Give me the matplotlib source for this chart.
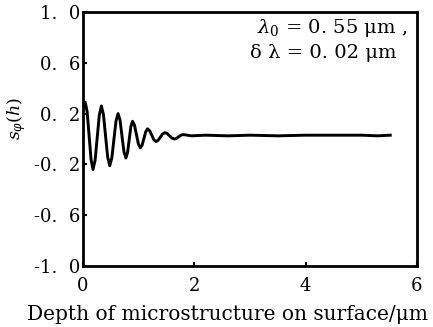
import matplotlib
matplotlib.use("Agg")
import matplotlib.pyplot as plt

# Data
depth = [0.00, 0.04, 0.075, 0.11, 0.145, 0.18, 0.2175, 0.255, 0.2925, 0.33,
         0.3675, 0.405, 0.4425, 0.48, 0.5175, 0.555, 0.5925, 0.63, 0.665, 0.70,
         0.735, 0.77, 0.80, 0.83, 0.86, 0.89, 0.925, 0.96, 0.995, 1.03,
         1.0625, 1.095, 1.1275, 1.16, 1.1975, 1.235, 1.2725, 1.31, 1.35, 1.39,
         1.43, 1.47, 1.5125, 1.555, 1.5975, 1.64, 1.68, 1.72, 1.76, 1.80,
         1.95, 2.2, 2.6, 3.0, 3.5, 4.0, 4.5, 5.0, 5.3, 5.52]
s_phi = [0.26, 0.29, 0.213, 0.025, -0.163, -0.24, -0.167, 0.01, 0.187, 0.26,
         0.191, 0.025, -0.141, -0.21, -0.15, -0.005, 0.14, 0.20, 0.149, 0.025,
         -0.099, -0.15, -0.108, -0.005, 0.098, 0.14, 0.109, 0.035, -0.039, -0.07,
         -0.048, 0.005, 0.058, 0.08, 0.065, 0.03, -0.005, -0.02, -0.01, 0.015,
         0.04, 0.05, 0.043, 0.025, 0.007, 0.0, 0.005, 0.018, 0.03, 0.035,
         0.025, 0.03, 0.025, 0.03, 0.025, 0.03, 0.03, 0.03, 0.025, 0.03]

xticks = [0, 2, 4, 6]
xticklabels = ["0", "2", "4", "6"]
yticks = [1.0, 0.6, 0.2, -0.2, -0.6, -1.0]
yticklabels = ["1.  0", "0.  6", "0.  2", "-0.  2", "-0.  6", "-1.  0"]

plt.rcParams['font.family'] = ['DejaVu Serif']
plt.rcParams['mathtext.fontset'] = 'dejavuserif'

W, H = 433, 327
fig = plt.figure(figsize=(W / 100, H / 100), dpi=100)
ax = fig.add_axes([83 / W, 1 - 266 / H, (417 - 83) / W, (266 - 12) / H])

ax.plot(depth, s_phi, color='black', lw=2.1)

ax.set_xlim(0, 6)
ax.set_ylim(-1, 1)
ax.set_xticks(xticks)
ax.set_xticklabels(xticklabels)
ax.set_yticks(yticks)
ax.set_yticklabels(yticklabels)
ax.tick_params(axis='both', direction='in', length=3, width=1.5, labelsize=13)
ax.tick_params(axis='y', pad=2)
ax.tick_params(axis='x', pad=8)
for sp in ax.spines.values():
    sp.set_linewidth(2.0)

fig.text(407 / W, 1 - 28 / H, r"$\lambda_0$ = 0. 55 μm ,", ha='right', va='center', fontsize=14)
fig.text(397 / W, 1 - 53 / H, r"δ λ = 0. 02 μm", ha='right', va='center', fontsize=14)

fig.text(17 / W, 1 - 118 / H, r"$s_{\varphi}(h)$", rotation=90, ha='center', va='center', fontsize=12.5)
fig.text(227 / W, 1 - 315 / H, "Depth of microstructure on surface/μm", ha='center', va='center', fontsize=14.5)

fig.savefig("out.png", dpi=100, facecolor='white')
